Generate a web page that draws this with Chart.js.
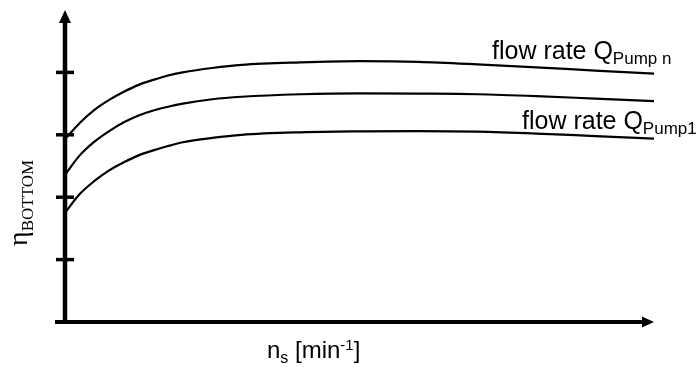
<!DOCTYPE html>
<html>
<head>
<meta charset="utf-8">
<script src="https://cdn.jsdelivr.net/npm/chart.js@4.4.0/dist/chart.umd.min.js"></script>
<style>
  html, body { margin: 0; padding: 0; background: #fff; }
</style>
</head>
<body>
<canvas id="effChart" width="698" height="367"></canvas>
<script>
// specific speed n_s (no units on the axis, just relative positions)
const speedValues = [0, 0.25, 0.5, 0.75, 1, 1.25, 1.5, 1.75, 2, 2.5, 3, 4, 5, 6, 7, 8, 9, 10];
// bottom efficiency, highest flow rate (Q_Pump n)
const etaPumpN = [2.93, 3.19, 3.40, 3.56, 3.69, 3.80, 3.88, 3.95, 4.00, 4.07, 4.12, 4.16, 4.18, 4.17, 4.13, 4.08, 4.03, 3.98];
// intermediate flow rate
const etaPumpMid = [2.36, 2.67, 2.89, 3.06, 3.20, 3.31, 3.39, 3.45, 3.50, 3.57, 3.61, 3.65, 3.665, 3.66, 3.65, 3.62, 3.58, 3.54];
// lowest flow rate (Q_Pump1)
const etaPump1 = [1.75, 2.05, 2.26, 2.43, 2.56, 2.67, 2.75, 2.82, 2.88, 2.95, 3.00, 3.04, 3.055, 3.06, 3.05, 3.02, 2.98, 2.94];
// unlabelled tick marks on the y axis
const yTicks = [1, 2, 3, 4];
const xMax = 10;
const yMax = 5;

const SANS = '"Liberation Sans", Arial, sans-serif';
const SERIF = '"Liberation Serif", "Times New Roman", serif';

// draw a run of text pieces with their own font and baseline shift
function drawRich(ctx, parts, x, y) {
    let cx = x;
    parts.forEach(p => {
        ctx.font = p.font;
        ctx.fillText(p.text, cx, y + (p.dy || 0));
        cx += ctx.measureText(p.text).width;
    });
}

function toPoints(values) {
    return speedValues.map((s, i) => ({ x: s, y: values[i] }));
}

// axes with arrow heads and the little tick dashes
const arrowAxes = {
    id: 'arrowAxes',
    afterDatasetsDraw(chart) {
        const { ctx, scales: { x, y } } = chart;
        const x0 = x.getPixelForValue(0), x1 = x.getPixelForValue(xMax);
        const y0 = y.getPixelForValue(0), y1 = y.getPixelForValue(yMax);
        ctx.save();
        ctx.strokeStyle = '#000';
        ctx.fillStyle = '#000';
        ctx.lineWidth = 4.5;
        ctx.beginPath();
        ctx.moveTo(x0, y0 + 2);
        ctx.lineTo(x0, y1 + 10);
        ctx.stroke();
        ctx.beginPath();
        ctx.moveTo(x0, y1);
        ctx.lineTo(x0 - 6, y1 + 13);
        ctx.lineTo(x0 + 6, y1 + 13);
        ctx.closePath();
        ctx.fill();

        ctx.lineWidth = 4;
        ctx.beginPath();
        ctx.moveTo(x0 - 10, y0);
        ctx.lineTo(x1 - 9, y0);
        ctx.stroke();
        ctx.beginPath();
        ctx.moveTo(x1, y0);
        ctx.lineTo(x1 - 12, y0 - 5.5);
        ctx.lineTo(x1 - 12, y0 + 5.5);
        ctx.closePath();
        ctx.fill();

        ctx.lineWidth = 3.5;
        yTicks.forEach(v => {
            const py = y.getPixelForValue(v);
            ctx.beginPath();
            ctx.moveTo(x0 - 9, py);
            ctx.lineTo(x0 + 9, py);
            ctx.stroke();
        });
        ctx.restore();
    }
};

// axis titles and curve labels with sub/superscripts
const richLabels = {
    id: 'richLabels',
    afterDraw(chart) {
        const { ctx } = chart;
        ctx.save();
        ctx.fillStyle = '#000';
        ctx.textBaseline = 'alphabetic';
        ctx.textAlign = 'left';

        drawRich(ctx, [
            { text: 'flow rate Q', font: '25px ' + SANS },
            { text: 'Pump n', font: '17px ' + SANS, dy: 5 }
        ], 492, 59);
        drawRich(ctx, [
            { text: 'flow rate Q', font: '25px ' + SANS },
            { text: 'Pump1', font: '17px ' + SANS, dy: 5 }
        ], 522, 129);

        drawRich(ctx, [
            { text: 'n', font: '24px ' + SANS },
            { text: 's', font: '16px ' + SANS, dy: 5 },
            { text: ' [min', font: '24px ' + SANS },
            { text: '-1', font: '15px ' + SANS, dy: -8 },
            { text: ']', font: '24px ' + SANS }
        ], 267, 358);

        ctx.translate(27, 246);
        ctx.rotate(-Math.PI / 2);
        drawRich(ctx, [
            { text: 'η', font: '28px ' + SERIF },
            { text: 'BOTTOM', font: '17px ' + SERIF, dy: 6 }
        ], 0, 0);
        ctx.restore();
    }
};

function curve(values) {
    return {
        data: toPoints(values),
        borderColor: '#000',
        borderWidth: 2.2,
        pointRadius: 0,
        fill: false,
        cubicInterpolationMode: 'monotone'
    };
}

new Chart(document.getElementById('effChart'), {
    type: 'line',
    data: {
        datasets: [curve(etaPumpN), curve(etaPumpMid), curve(etaPump1)]
    },
    options: {
        responsive: false,
        animation: false,
        devicePixelRatio: 1,
        layout: { padding: { left: 65, right: 44, top: 10, bottom: 45 } },
        plugins: { legend: { display: false }, tooltip: { enabled: false } },
        scales: {
            x: { type: 'linear', min: 0, max: xMax, display: false },
            y: { type: 'linear', min: 0, max: yMax, display: false }
        }
    },
    plugins: [arrowAxes, richLabels]
});
</script>
</body>
</html>
